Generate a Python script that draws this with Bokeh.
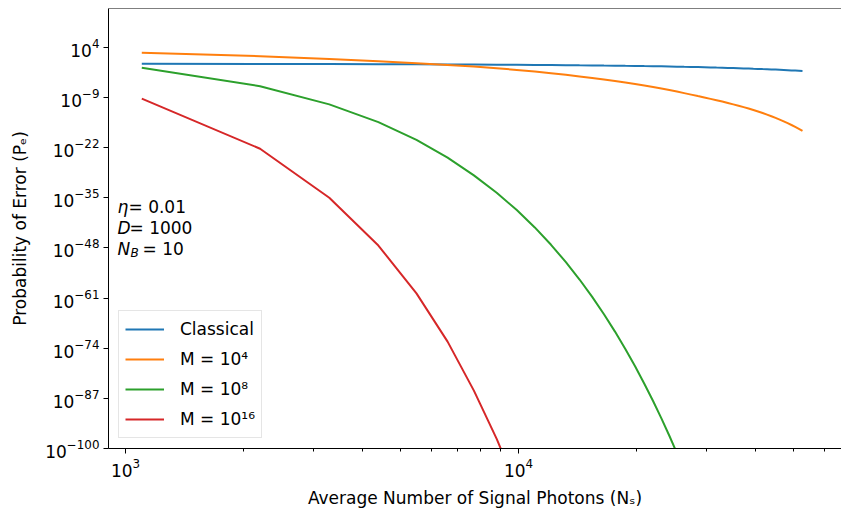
import numpy as np
from bokeh.plotting import figure
from bokeh.models import Range1d, FixedTicker, LogTickFormatter, Label, Legend, LegendItem, Span
from bokeh.embed import file_html
from bokeh.resources import INLINE

# ---------------- data (y given as log10 values) ----------------
n_signal = [1100, 2200, 3300, 4400, 5500, 6600, 7700, 8800, 9900, 11000,
            12100, 13200, 14300, 15400, 16500, 17600, 18700, 19800, 20900, 22000,
            23100, 24200, 25300, 26400, 27500, 28600, 29700, 30800, 31900, 33000,
            34100, 35200, 36300, 37400, 38500, 39600, 40700, 41800, 42900, 44000,
            45100, 46200, 47300, 48400, 49500, 50600, 51700, 52800]

log_classical = [-0.30, -0.33, -0.36, -0.39, -0.41, -0.44, -0.48, -0.51, -0.54, -0.57,
                 -0.60, -0.63, -0.67, -0.70, -0.74, -0.77, -0.81, -0.84, -0.88, -0.91,
                 -0.95, -0.99, -1.03, -1.07, -1.10, -1.14, -1.18, -1.22, -1.27, -1.31,
                 -1.35, -1.39, -1.43, -1.48, -1.52, -1.57, -1.61, -1.66, -1.70, -1.75,
                 -1.79, -1.84, -1.89, -1.94, -1.99, -2.04, -2.09, -2.14]

log_m1e4 = [2.56, 1.68, 0.93, 0.35, -0.12, -0.57, -1.00, -1.43, -1.86, -2.29,
            -2.72, -3.15, -3.58, -3.99, -4.37, -4.76, -5.15, -5.54, -5.93, -6.32,
            -6.71, -7.10, -7.49, -7.88, -8.27, -8.65, -9.01, -9.37, -9.73, -10.08,
            -10.44, -10.80, -11.16, -11.52, -11.87, -12.25, -12.64, -13.04, -13.45, -13.87,
            -14.30, -14.74, -15.20, -15.67, -16.15, -16.65, -17.16, -17.68]

log_m1e8 = [-1.3, -6.1, -10.8, -15.4, -20.0, -24.6, -29.2, -33.7, -38.2, -42.7,
            -47.2, -51.7, -56.2, -60.7, -65.2, -69.7, -74.2, -78.7, -83.2, -87.7,
            -92.2, -96.7, -101.2]

log_m1e16 = [-9.3, -22.3, -35.0, -47.4, -59.8, -72.3, -85.0, -97.5, -110.0]

series_labels = ["Classical", "M = 10\u2074", "M = 10\u2078", "M = 10\u00b9\u2076"]
y_tick_exponents = [4, -9, -22, -35, -48, -61, -74, -87, -100]
x_major_ticks = [1e3, 1e4]
x_minor_ticks = [2e3, 3e3, 4e3, 5e3, 6e3, 7e3, 8e3, 9e3, 2e4, 3e4, 4e4, 5e4, 6e4]

colors = ["#1f77b4", "#ff7f0e", "#2ca02c", "#d62728"]
FONT = "DejaVu Sans"

p = figure(width=841, height=510, x_axis_type="log", y_axis_type="log",
           x_range=Range1d(10 ** 2.9567, 10 ** 4.8219),
           y_range=Range1d(1e-100, 10 ** 14.05),
           output_backend="svg", toolbar_location=None,
           min_border_left=108, min_border_right=0, min_border_top=8, min_border_bottom=59)
p.outline_line_color = None
p.grid.visible = False
p.background_fill_color = "white"
p.border_fill_color = "white"

series = [log_classical, log_m1e4, log_m1e8, log_m1e16]
renderers = []
for vals, c in zip(series, colors):
    xs = n_signal[:len(vals)]
    ys = [10.0 ** v for v in vals]
    r = p.line(xs, ys, line_color=c, line_width=2)
    renderers.append(r)

# top spine
p.add_layout(Span(location=10 ** 14.05, dimension="width", line_color="black", line_width=1))

# axes
p.xaxis.ticker = FixedTicker(ticks=x_major_ticks, minor_ticks=x_minor_ticks)
p.yaxis.ticker = FixedTicker(ticks=[10.0 ** e for e in y_tick_exponents], minor_ticks=[])
p.xaxis.formatter = LogTickFormatter()
p.yaxis.formatter = LogTickFormatter()
for ax in (p.xaxis[0], p.yaxis[0]):
    ax.axis_line_color = "black"
    ax.major_tick_line_color = "black"
    ax.minor_tick_line_color = "black"
    ax.major_tick_out = 5
    ax.major_tick_in = 0
    ax.minor_tick_out = 3
    ax.minor_tick_in = 0
    ax.major_label_text_font = FONT
    ax.major_label_text_font_size = "17px"
    ax.major_label_text_color = "black"
    ax.axis_label_text_font = FONT
    ax.axis_label_text_font_size = "17px"
    ax.axis_label_text_font_style = "normal"
    ax.axis_label_text_color = "black"
    ax.major_label_standoff = 4

p.xaxis.axis_label = "Average Number of Signal Photons (N\u209b)"
p.yaxis.axis_label = "Probability of Error (P\u2091)"
p.xaxis.axis_label_standoff = 8
p.yaxis.axis_label_standoff = 12

# legend
legend = Legend(items=[LegendItem(label=l, renderers=[r]) for l, r in zip(series_labels, renderers)],
                location="bottom_left")
legend.label_text_font = FONT
legend.label_text_font_size = "17px"
legend.label_text_color = "black"
legend.glyph_width = 39
legend.glyph_height = 24
legend.label_height = 24
legend.label_standoff = 16
legend.spacing = 6
legend.padding = 6
legend.margin = 10
legend.border_line_color = "#cccccc"
legend.border_line_width = 1
legend.background_fill_alpha = 0.8
p.add_layout(legend)

# parameter annotations
x_ann = 954
rows = [10 ** -37.42, 10 ** -42.83, 10 ** -48.23]
common = dict(text_font=FONT, text_font_size="17px", text_baseline="middle", text_color="black")
p.add_layout(Label(x=x_ann, y=rows[0], text="\u03b7", text_font_style="italic", **common))
p.add_layout(Label(x=x_ann, y=rows[0], x_offset=11, text="= 0.01", **common))
p.add_layout(Label(x=x_ann, y=rows[1], text="D", text_font_style="italic", **common))
p.add_layout(Label(x=x_ann, y=rows[1], x_offset=12, text="= 1000", **common))
p.add_layout(Label(x=x_ann, y=rows[2], text="N", text_font_style="italic", **common))
p.add_layout(Label(x=x_ann, y=rows[2], x_offset=13, y_offset=-4, text="B", text_font_style="italic",
                   text_font=FONT, text_font_size="12px", text_baseline="middle", text_color="black"))
p.add_layout(Label(x=x_ann, y=rows[2], x_offset=25, text="= 10", **common))

open("out.html", "w").write(file_html(p, INLINE))
